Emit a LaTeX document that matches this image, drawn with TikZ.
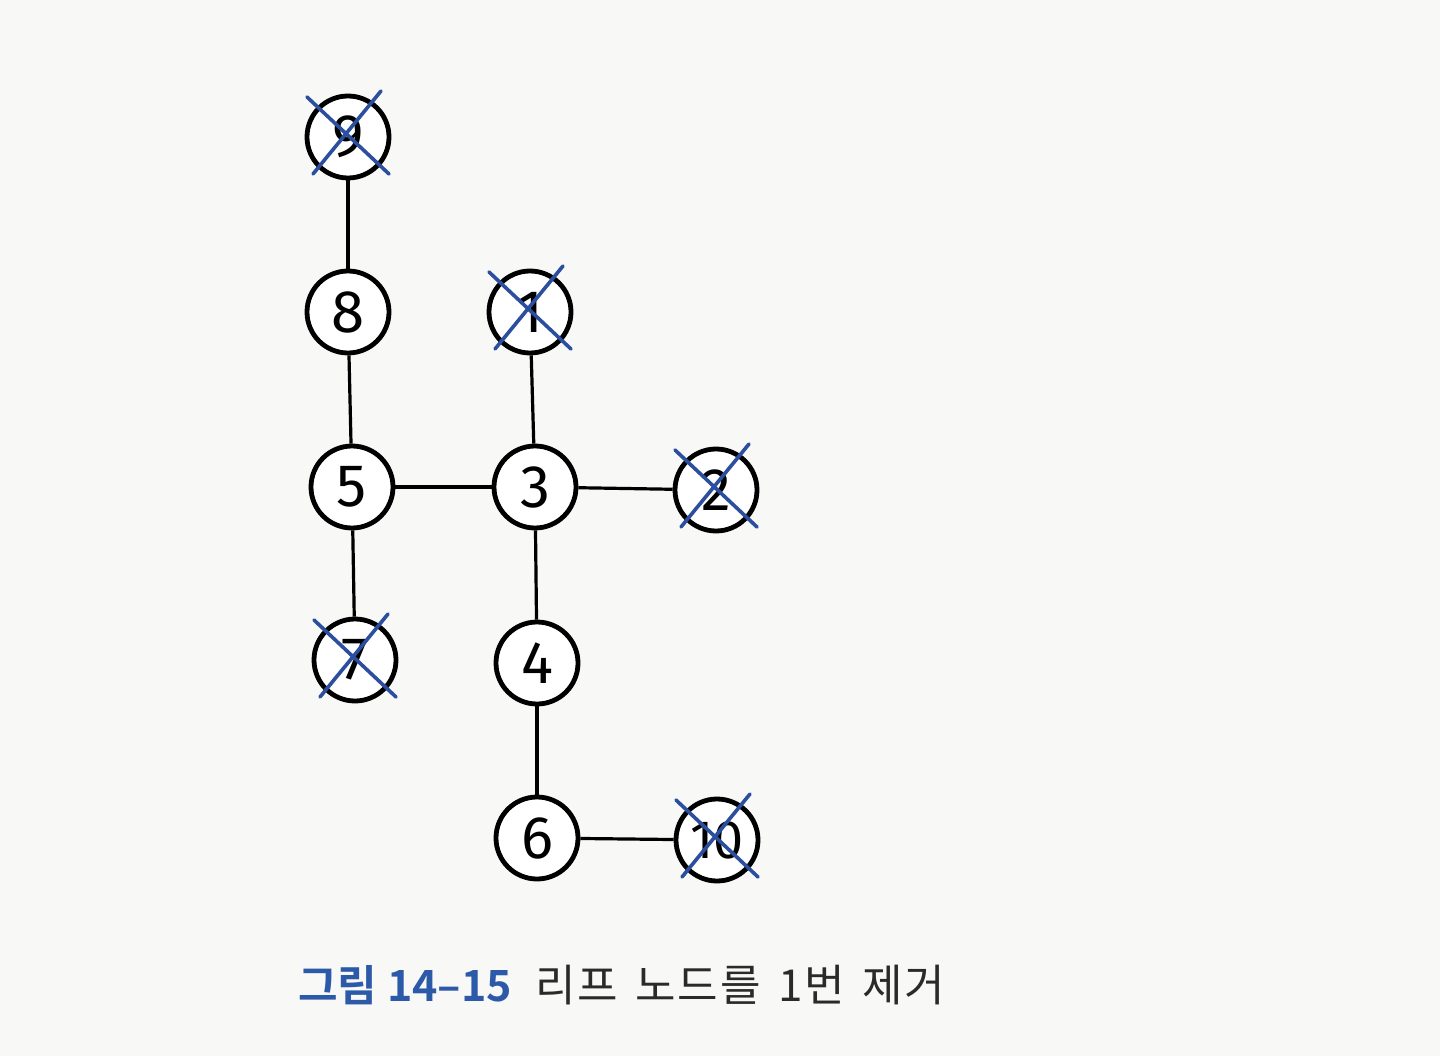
\documentclass[tikz,border=0pt]{standalone}
\usepackage{fontspec}
\setmainfont{Fira Sans}
\newfontfamily\kr{Noto Sans CJK KR}
\newfontfamily\krs[LetterSpace=4]{Noto Sans CJK KR}
\newfontfamily\krb[BoldFont={Noto Sans CJK KR Bold}]{Noto Sans CJK KR}
\usetikzlibrary{calc}
\definecolor{xblue}{HTML}{2B4E9E}
\definecolor{capblue}{HTML}{2D5AA8}
\definecolor{captext}{HTML}{2A2A2A}
\definecolor{paper}{HTML}{F8F8F7}
\tikzset{
  vert/.style={circle, draw=black, line width=4.8pt, minimum size=82pt, inner sep=0pt, fill=white, font=\fontsize{60}{60}\selectfont},
  edge/.style={line width=3.2pt, black},
  xmark/.style={line width=3.6pt, xblue, line cap=round}
}
\newcommand{\crossout}[1]{%
  \draw[xmark] ($(#1)+(-41,-40)$) -- ($(#1)+(41,37)$);
  \draw[xmark] ($(#1)+(33,-46)$) -- ($(#1)+(-35,37)$);
}
\begin{document}
\begin{tikzpicture}[x=1pt,y=-1pt]
\fill[paper] (0,0) rectangle (1440,1056);
\useasboundingbox (0,0) rectangle (1440,1056);
\node[vert] (n9) at (348,137) {9};
\node[vert] (n8) at (348,312) {8};
\node[vert] (n1) at (530,312) {1};
\node[vert] (n5) at (352,487) {5};
\node[vert] (n3) at (535,487) {3};
\node[vert] (n2) at (716,490) {2};
\node[vert] (n7) at (355,660) {7};
\node[vert] (n4) at (537,663) {4};
\node[vert] (n6) at (537,838) {6};
\node[vert, font=\fontsize{54}{54}\selectfont] (n10) at (717,840) {10};
\draw[edge] (n9) -- (n8);
\draw[edge] (n8) -- (n5);
\draw[edge] (n5) -- (n3);
\draw[edge] (n5) -- (n7);
\draw[edge] (n1) -- (n3);
\draw[edge] (n3) -- (n2);
\draw[edge] (n3) -- (n4);
\draw[edge] (n4) -- (n6);
\draw[edge] (n6) -- (n10);
\crossout{n9}
\crossout{n1}
\crossout{n2}
\crossout{n7}
\crossout{n10}
\node[anchor=base west, inner sep=0pt, text=capblue, font=\krb\bfseries\fontsize{43}{43}\selectfont] (cap1) at (298,1001) {그림 14–15};
\node[anchor=base west, inner sep=0pt, text=captext, font=\krs\fontsize{44}{44}\selectfont] (cap2) at (535,1001) {리프\hspace{6pt} 노드를\hspace{6pt} 1번\hspace{6pt} 제거};
\end{tikzpicture}
\end{document}
